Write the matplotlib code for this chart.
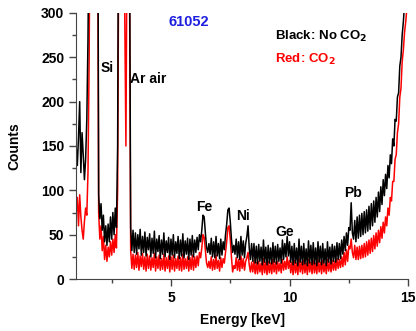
import numpy as np
import matplotlib
matplotlib.use('Agg')
from matplotlib import pyplot as plt
from matplotlib.ticker import MultipleLocator

plt.rcParams['font.family'] = ['Liberation Sans', 'DejaVu Sans']
plt.rcParams['font.weight'] = 'bold'

# counts per 0.05 keV channel, 1.00 .. 15.00 keV (values > 300 are clipped by the axis)
black = [
    150, 128, 160, 200, 120, 165, 140, 112, 135, 180, 270, 420,           # 1.00-1.55
    600, 700, 800, 800, 800, 700, 600,                                     # 1.60-1.90 Si
    95, 68, 85, 55, 72, 42, 60, 38, 62, 42, 70, 45, 75, 50, 80, 58, 150,   # 1.95-2.75
    500, 800, 800, 800, 800, 400, 350, 500, 600, 400,                      # 2.80-3.25 Ar
    58, 32, 55, 30, 52, 28, 50, 34, 56, 27, 48, 30, 53, 26, 47, 33, 51, 25, 46, 29,
    54, 24, 45, 31, 49, 23, 44, 28, 52, 25, 43, 30, 47, 22, 45, 27, 50, 24, 42, 29,
    48, 23, 44, 26, 51, 24, 43, 28, 46, 22, 45, 27, 49, 25, 44, 30, 47, 33, 50,  # 3.30-6.20
    42, 55, 72, 70, 52, 36, 30, 40,                                        # 6.25-6.60 Fe
    28, 46, 25, 42, 24, 48, 26, 40, 23, 45, 27, 42, 33, 50,                # 6.65-7.30
    62, 78, 80, 65, 45, 30, 38, 28,                                        # 7.35-7.70 Ni
    45, 24, 42, 22, 48, 27, 43, 24, 40, 48, 60, 35, 22, 40,                # 7.75-8.40
    20, 40, 18, 37, 17, 39, 20, 36, 16, 44, 19, 36, 16, 38, 18, 35, 17, 41, 19, 37,
    17, 39, 20, 35, 18, 44, 22, 40, 25, 48, 26, 42, 19, 37, 16, 40, 18, 35, 15, 45,
    19, 37, 16, 40, 17, 34, 15, 43, 18, 38, 16, 41, 17, 35, 15, 42, 19, 37, 16, 40,
    18, 34, 15, 42, 19, 36, 17, 39, 20, 37, 19, 41, 22, 40, 23, 44,        # 8.45-12.20
    28, 48, 32, 52, 38, 58, 55, 86, 52, 45, 66, 42,                        # 12.25-12.80 Pb
    70, 46, 72, 48, 74, 50, 76, 52, 78, 54, 82, 56, 85, 60, 88, 64, 92, 70, 98, 76,
    104, 84, 112, 94, 118, 102, 128, 114, 140, 130, 158, 150, 180, 178, 205, 210,
    240, 250, 275, 290, 310, 330, 350, 370,                                # 12.85-15.00
]

red = [
    75, 92, 60, 95, 70, 55, 45, 65, 80, 72, 120, 250,
    500, 650, 800, 800, 800, 700, 500,
    75, 45, 60, 32, 48, 22, 38, 20, 36, 25, 42, 27, 45, 30, 50, 35, 100,
    400, 800, 800, 800, 800, 300, 150, 400, 500, 350,
    32, 12, 28, 11, 27, 13, 30, 10, 26, 14, 29, 11, 25, 9, 28, 12, 26, 10, 24, 13,
    29, 9, 25, 12, 27, 10, 23, 11, 28, 9, 24, 12, 26, 8, 25, 11, 27, 9, 23, 12,
    26, 10, 24, 9, 28, 11, 23, 12, 25, 9, 24, 11, 27, 10, 25, 13, 26, 15, 30,
    24, 35, 50, 47, 32, 18, 13, 20,
    12, 25, 10, 22, 11, 27, 12, 21, 9, 24, 13, 23, 18, 30,
    42, 58, 60, 45, 25, 8, 15, 12,
    24, 10, 22, 9, 26, 12, 23, 10, 20, 24, 30, 16, 8, 19,
    8, 21, 6, 19, 6, 20, 8, 18, 5, 23, 7, 19, 5, 20, 7, 18, 6, 22, 8, 19,
    6, 20, 9, 18, 7, 22, 10, 20, 11, 25, 12, 21, 7, 19, 5, 21, 7, 18, 5, 23,
    8, 19, 6, 21, 7, 18, 5, 22, 8, 19, 6, 21, 7, 18, 6, 22, 8, 19, 6, 21,
    8, 18, 6, 22, 9, 19, 8, 21, 10, 20, 10, 23, 12, 22, 13, 25,
    14, 30, 16, 33, 20, 37, 34, 45, 30, 24, 38, 22,
    36, 22, 37, 23, 38, 24, 40, 25, 42, 27, 44, 29, 46, 31, 49, 34, 52, 37, 55, 41,
    59, 46, 64, 52, 70, 60, 80, 72, 92, 88, 110, 110, 135, 140, 165, 175,
    205, 215, 245, 258, 278, 290, 305, 320,
]

energy_black = np.linspace(1, 15, len(black))
energy_red = np.linspace(1, 15, len(red))

peaks = ['Si', 'Ar air', 'Fe', 'Ni', 'Ge', 'Pb']
peak_x = [2.31, 4.04, 6.4, 8.02, 9.81, 12.68]
peak_y = [238, 226, 81, 71, 53, 97]

fig = plt.figure(figsize=(4.16, 3.31), dpi=100)
ax = fig.add_axes([0.183, 0.157, 0.798, 0.804])

ax.plot(energy_red, red, color='#ff0000', lw=1.1)
ax.plot(energy_black, black, color='black', lw=1.1)

for name, px, py in zip(peaks, peak_x, peak_y):
    ax.text(px, py, name, ha='center', va='center', fontsize=10, fontweight='bold')

ax.text(5.77, 290, '61052', color='#1f1fe0', ha='center', va='center',
        fontsize=10.5, fontweight='bold')
ax.text(9.39, 273, 'Black: No CO$_\\mathbf{2}$', ha='left', va='center',
        fontsize=9.5, fontweight='bold')
ax.text(9.39, 247, 'Red: CO$_\\mathbf{2}$', color='#ff0000', ha='left', va='center',
        fontsize=9.5, fontweight='bold')

ax.set_xlim(1, 15)
ax.set_ylim(0, 300)
ax.xaxis.set_major_locator(MultipleLocator(5))
ax.xaxis.set_minor_locator(MultipleLocator(2.5))
ax.yaxis.set_major_locator(MultipleLocator(50))
ax.yaxis.set_minor_locator(MultipleLocator(25))
ax.spines['top'].set_visible(False)
ax.spines['right'].set_visible(False)
ax.spines['left'].set_color('#444444')
ax.spines['bottom'].set_color('#444444')
ax.tick_params(which='major', length=5, width=1, labelsize=10, color='#444444')
ax.tick_params(which='minor', length=3, width=1, color='#444444')
for lab in ax.get_xticklabels() + ax.get_yticklabels():
    lab.set_fontweight('bold')

ax.set_xlabel('Energy [keV]', fontsize=10, fontweight='bold')
ax.set_ylabel('Counts', fontsize=10, fontweight='bold')
ax.xaxis.set_label_coords(0.5, -0.154)
ax.yaxis.set_label_coords(-0.187, 0.5)
ax.xaxis.label.set_va('center')
ax.yaxis.label.set_va('center')

plt.savefig('out.png', dpi=100)
plt.close()
